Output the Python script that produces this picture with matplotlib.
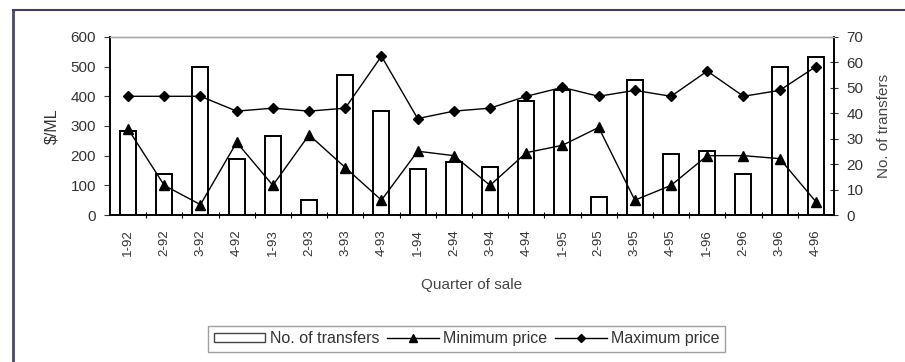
import numpy as np
import matplotlib.pyplot as plt
from matplotlib.patches import Patch
from matplotlib.lines import Line2D

plt.rcParams['font.family'] = ['Liberation Sans', 'DejaVu Sans']

quarters = ['1-92', '2-92', '3-92', '4-92', '1-93', '2-93', '3-93', '4-93',
            '1-94', '2-94', '3-94', '4-94', '1-95', '2-95', '3-95', '4-95',
            '1-96', '2-96', '3-96', '4-96']
transfers = [33, 16, 58, 22, 31, 6, 55, 41, 18, 21,
             19, 45, 49, 7, 53, 24, 25, 16, 58, 62]
min_price = [290, 100, 35, 245, 100, 270, 160, 50, 215, 200,
             100, 210, 235, 295, 50, 100, 200, 200, 190, 45]
max_price = [400, 400, 400, 350, 360, 350, 360, 535, 325, 350,
             360, 400, 430, 400, 420, 400, 485, 400, 420, 500]

x = np.arange(len(quarters))

fig = plt.figure(figsize=(9.05, 3.62), dpi=100)
ax = fig.add_axes([0.1215, 0.406, 0.8, 0.492])
ax2 = ax.twinx()

# bars on the right-hand axis, drawn behind the price lines
ax2.bar(x, transfers, width=0.44, facecolor='white', edgecolor='black', linewidth=1.4, zorder=1)
ax2.set_ylim(0, 70)
ax2.set_yticks(range(0, 71, 10))

ax.set_zorder(ax2.get_zorder() + 1)
ax.patch.set_visible(False)
ax.plot(x, min_price, color='black', lw=1.0, marker='^', markersize=7, zorder=3)
ax.plot(x, max_price, color='black', lw=1.0, marker='D', markersize=5.5, zorder=3)
ax.set_ylim(0, 600)
ax.set_yticks(range(0, 601, 100))
ax.set_xlim(-0.5, len(quarters) - 0.5)
ax.set_xticks(x)
ax.set_xticklabels(quarters, rotation=90, fontsize=9.5, color='#333333')
ax.set_xticks(np.arange(0.5, len(quarters) - 1, 1), minor=True)
ax.tick_params(axis='x', which='major', length=0, pad=10)
ax.tick_params(axis='x', which='minor', length=4, direction='inout', width=0.8)
ax.tick_params(axis='y', length=4, direction='out', labelsize=11, colors='#333333', pad=6)
ax2.tick_params(axis='y', length=6, direction='inout', labelsize=11, colors='#333333', pad=6)

for a in (ax, ax2):
    a.spines['top'].set_color('#aaaaaa')
    a.spines['top'].set_linewidth(1.0)
    a.spines['left'].set_linewidth(1.2)
    a.spines['right'].set_linewidth(1.2)
    a.spines['bottom'].set_linewidth(1.2)

ax.set_ylabel('$/ML', fontsize=11.5, color='#333333', labelpad=8)
ax2.set_ylabel('No. of transfers', fontsize=11, color='#444444', rotation=90, labelpad=10)
ax.set_xlabel('Quarter of sale', fontsize=11, color='#444444', labelpad=16)

handles = [
    Patch(facecolor='white', edgecolor='#444444', linewidth=1.0),
    Line2D([], [], color='black', lw=1.0, marker='^', markersize=6),
    Line2D([], [], color='black', lw=1.0, marker='D', markersize=4.5),
]
leg = fig.legend(handles, ['No. of transfers', 'Minimum price', 'Maximum price'],
                 loc='center', bbox_to_anchor=(0.516, 0.064), ncol=3, fontsize=11.5,
                 frameon=True, fancybox=False, edgecolor='#888888',
                 handlelength=3.2, handletextpad=0.3, columnspacing=0.5,
                 borderpad=0.35, handleheight=0.55)
leg.get_frame().set_linewidth(1.0)
for t in leg.get_texts():
    t.set_color('#333333')

# outer frame
fig.add_artist(Line2D([13 / 905, 13 / 905], [0, 1 - 10 / 362], transform=fig.transFigure,
                      color='#4a4a6a', lw=2.0))
fig.add_artist(Line2D([13 / 905, 1], [1 - 10 / 362, 1 - 10 / 362], transform=fig.transFigure,
                      color='#4a3a5a', lw=1.5))

fig.savefig('out.png', dpi=100)
